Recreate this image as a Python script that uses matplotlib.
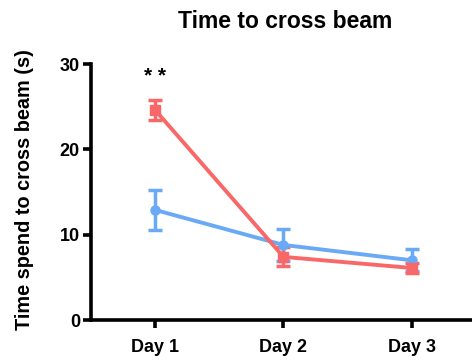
import matplotlib
matplotlib.use('Agg')
import matplotlib.pyplot as plt

plt.rcParams['font.family'] = ['Liberation Sans', 'DejaVu Sans']
plt.rcParams['font.weight'] = 'bold'

days = ['Day 1', 'Day 2', 'Day 3']
blue_mean = [12.9, 8.8, 7.0]
blue_err = [2.3, 1.9, 1.3]
red_mean = [24.6, 7.4, 6.1]
red_err = [1.2, 1.1, 0.6]

blue = '#69A9F5'
red = '#F86868'

fig = plt.figure(figsize=(4.72, 3.62), dpi=100)
ax = fig.add_axes([0.193, 0.116, 0.807, 0.707])

x = [1, 2, 3]
ax.errorbar(x, blue_mean, yerr=blue_err, color=blue, marker='o', markersize=6.5,
            linewidth=2.8, elinewidth=2.5, capsize=5, capthick=2.5)
ax.errorbar(x, red_mean, yerr=red_err, color=red, marker='s', markersize=6.5,
            linewidth=2.8, elinewidth=2.5, capsize=5, capthick=2.5)

ax.text(1, 28.6, '* *', ha='center', va='center', fontsize=15, fontweight='bold')

ax.set_xlim(0.5, 3.47)
ax.set_ylim(0, 30)
ax.set_yticks([0, 10, 20, 30])
ax.set_xticks(x)
ax.set_xticklabels(days)
ax.spines['top'].set_visible(False)
ax.spines['right'].set_visible(False)
ax.spines['left'].set_linewidth(2.6)
ax.spines['bottom'].set_linewidth(2.6)
ax.tick_params(axis='both', width=2.6, length=6, labelsize=13)
ax.tick_params(axis='x', pad=8)
ax.tick_params(axis='y', pad=2)
ax.set_ylabel('Time spend to cross beam (s)', fontsize=14.3, fontweight='bold')
ax.yaxis.set_label_coords(-0.15, 0.51)
fig.text(0.605, 0.94, 'Time to cross beam', ha='center', va='center', fontsize=16.5, fontweight='bold')

fig.savefig('out.png', dpi=100)
